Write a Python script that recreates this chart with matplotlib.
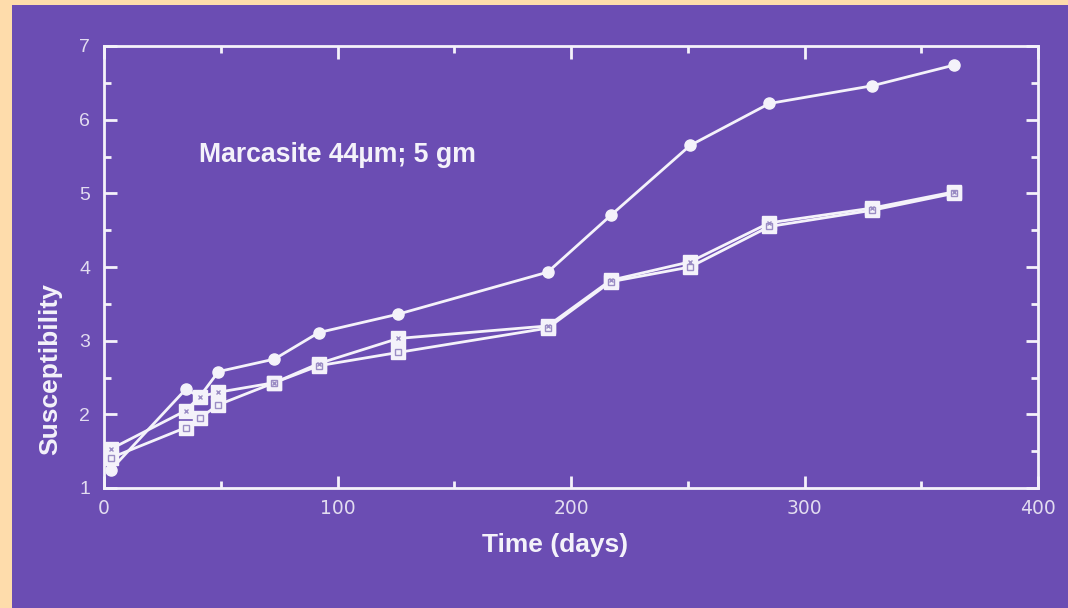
import matplotlib.pyplot as plt
from matplotlib.patches import Rectangle
from matplotlib.ticker import MultipleLocator

# Marcasite susceptibility vs time
days = [3, 35, 41, 49, 73, 92, 126, 190, 217, 251, 285, 329, 364]
series_a = [1.25, 2.34, 2.24, 2.58, 2.75, 3.11, 3.36, 3.93, 4.70, 5.65, 6.22, 6.46, 6.74]
series_b = [1.53, 2.05, 2.24, 2.30, 2.43, 2.69, 3.03, 3.20, 3.82, 4.07, 4.60, 4.80, 5.02]
series_c = [1.41, 1.82, 1.95, 2.13, 2.43, 2.66, 2.84, 3.17, 3.80, 4.00, 4.55, 4.77, 5.00]

purple = '#6b4db3'
peach = '#fedcab'
white = '#f4f2fa'
label_col = '#e2dcf0'

plt.rcParams['font.family'] = ['Liberation Sans', 'DejaVu Sans']

fig = plt.figure(figsize=(10.68, 6.08), dpi=100, facecolor=peach)
# purple slide area (behind the axes)
fig.add_artist(Rectangle((12 / 1068, 0), 1, 603 / 608, transform=fig.transFigure,
                         facecolor=purple, edgecolor='none', zorder=-5))

ax = fig.add_axes([104 / 1068, 1 - 488 / 608, (1038 - 104) / 1068, (488 - 46) / 608])
ax.set_facecolor(purple)

# upper curve - filled round markers
ax.plot(days, series_a, color=white, linewidth=2, marker='o', markersize=8,
        markerfacecolor=white, markeredgecolor=white, zorder=3)

# two lower curves - square markers
ax.plot(days, series_b, color=white, linewidth=2, marker='s', markersize=10,
        markerfacecolor=white, markeredgecolor=white, zorder=4)
ax.plot(days, series_b, linestyle='none', marker='x', markersize=3,
        markeredgecolor='#9a8cc4', markeredgewidth=1, zorder=5)
ax.plot(days, series_c, color=white, linewidth=2, marker='s', markersize=10,
        markerfacecolor=white, markeredgecolor=white, zorder=4)
ax.plot(days, series_c, linestyle='none', marker='s', markersize=4,
        markerfacecolor='none', markeredgecolor='#9a8cc4', markeredgewidth=1, zorder=5)

ax.set_xlim(0, 400)
ax.set_ylim(1, 7)
ax.xaxis.set_major_locator(MultipleLocator(100))
ax.xaxis.set_minor_locator(MultipleLocator(50))
ax.yaxis.set_major_locator(MultipleLocator(1))
ax.yaxis.set_minor_locator(MultipleLocator(0.5))

for spine in ax.spines.values():
    spine.set_color(white)
    spine.set_linewidth(2)

ax.tick_params(which='both', direction='in', top=True, right=True, colors=white, width=2)
ax.tick_params(which='major', length=9)
ax.tick_params(which='minor', length=5)
ax.tick_params(axis='x', which='major', labelsize=13.5, labelcolor=label_col, pad=8)
ax.tick_params(axis='y', which='major', labelsize=14, labelcolor=label_col, pad=10)
for lbl in ax.get_xticklabels():
    lbl.set_fontfamily('DejaVu Sans')

ax.set_xlabel('Time (days)', fontsize=19, fontweight='bold', color=white)
ax.xaxis.set_label_coords(0.483, -0.102)
ax.set_ylabel('Susceptibility', fontsize=19, fontweight='bold', color=white)
ax.yaxis.set_label_coords(-0.045, 0.27)

ax.text(0.102, 0.753, 'Marcasite 44\u00b5m; 5 gm', transform=ax.transAxes, fontsize=19.2,
        fontweight='bold', color=white, ha='left', va='center')

fig.savefig('out.png', dpi=100, facecolor=peach)
